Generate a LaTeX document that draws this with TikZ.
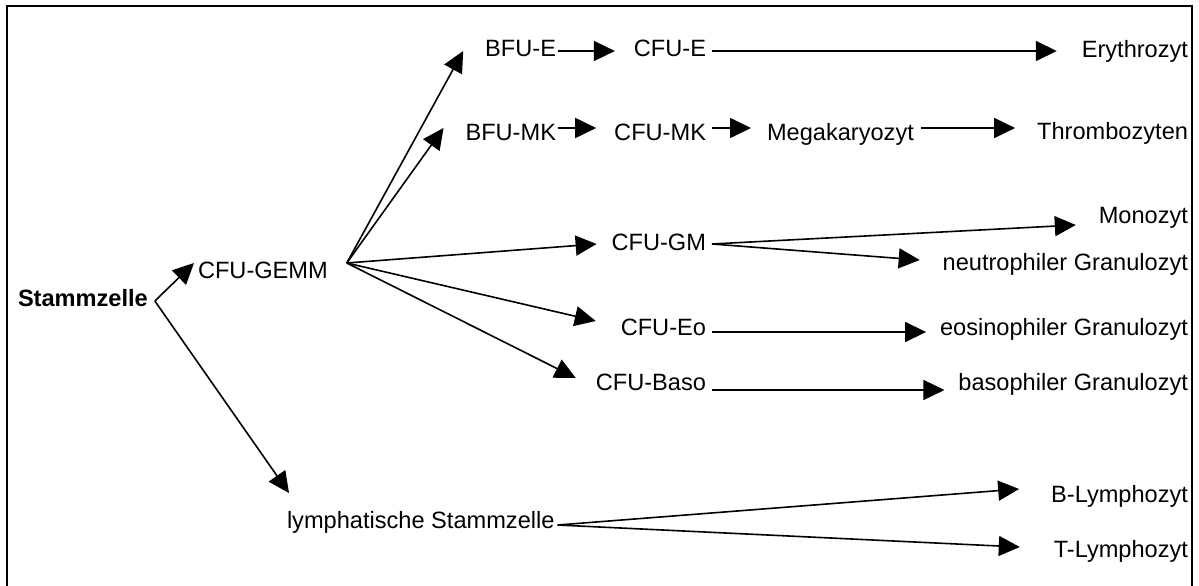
\documentclass[tikz,border=0pt]{standalone}
\usepackage{fontspec}
\setmainfont{Liberation Sans}
\usetikzlibrary{arrows.meta}
\tikzset{
  lbl/.style={inner sep=0pt, outer sep=0pt, font=\fontsize{23.6}{28}\selectfont},
  arr/.style={line width=1.6pt, -{Triangle[length=21pt,width=20pt]}},
  ln/.style={line width=1.6pt},
  frame/.style={line width=2pt}
}
\begin{document}
\begin{tikzpicture}[x=1pt,y=-1pt]
\useasboundingbox (0,0) rectangle (1199,586);
\draw[frame] (7,592) -- (7,6) -- (1192,6) -- (1192,592);

% nodes
\node[lbl, anchor=base west, font=\fontsize{23.6}{28}\selectfont\bfseries] (st) at (18,306) {Stammzelle};
\node[lbl, anchor=base west] (gemm) at (198,278) {CFU-GEMM};
\node[lbl, anchor=base east] (bfue) at (556,57) {BFU-E};
\node[lbl, anchor=base east] (cfue) at (706,57) {CFU-E};
\node[lbl, anchor=base east] (ery) at (1188,58) {Erythrozyt};
\node[lbl, anchor=base east] (bfumk) at (556,140) {BFU-MK};
\node[lbl, anchor=base east] (cfumk) at (706,140) {CFU-MK};
\node[lbl, anchor=base west] (mega) at (767,140) {Megakaryozyt};
\node[lbl, anchor=base east] (thr) at (1188,139) {Thrombozyten};
\node[lbl, anchor=base east] (cfugm) at (706,250) {CFU-GM};
\node[lbl, anchor=base east] (mono) at (1188,223) {Monozyt};
\node[lbl, anchor=base east] (neut) at (1188,270) {neutrophiler Granulozyt};
\node[lbl, anchor=base east] (cfueo) at (706,335) {CFU-Eo};
\node[lbl, anchor=base east] (eos) at (1188,335) {eosinophiler Granulozyt};
\node[lbl, anchor=base east] (baso) at (706,390) {CFU-Baso};
\node[lbl, anchor=base east] (basg) at (1188,390) {basophiler Granulozyt};
\node[lbl, anchor=base west] (lym) at (287,528) {lymphatische Stammzelle};
\node[lbl, anchor=base east] (blym) at (1188,502) {B-Lymphozyt};
\node[lbl, anchor=base east] (tlym) at (1188,557) {T-Lymphozyt};

% junctions
\coordinate (stj) at ([xshift=7pt,yshift=5pt]st.base east);
\coordinate (fan) at ([xshift=19pt,yshift=15pt]gemm.base east);
\coordinate (gmj) at ([xshift=6pt,yshift=6pt]cfugm.base east);
\coordinate (lyj) at ([xshift=3pt,yshift=3pt]lym.base east);

% connectors
\draw[arr] (stj) -- ([xshift=-4pt,yshift=15pt]gemm.base west);
\draw[arr] (stj) -- ([xshift=2pt,yshift=35pt]lym.base west);

\draw[arr] (fan) -- ([xshift=-22pt,yshift=6pt]bfue.base west);
\draw[arr] (fan) -- ([xshift=-22pt,yshift=12pt]bfumk.base west);
\draw[arr] (fan) -- ([xshift=-15pt,yshift=6pt]cfugm.base west);
\draw[arr] (fan) -- ([xshift=-25pt,yshift=14pt]cfueo.base west);
\draw[arr] (fan) -- ([xshift=-20pt,yshift=12pt]baso.base west);

\draw[arr] ([xshift=2pt,yshift=6pt]bfue.base east) -- ([xshift=-19pt,yshift=6pt]cfue.base west);
\draw[arr] ([xshift=6pt,yshift=6pt]cfue.base east) -- ([xshift=-25pt,yshift=7pt]ery.base west);

\draw[arr] ([xshift=2pt,yshift=12pt]bfumk.base east) -- ([xshift=-18pt,yshift=12pt]cfumk.base west);
\draw[arr] ([xshift=6pt,yshift=12pt]cfumk.base east) -- ([xshift=-16pt,yshift=12pt]mega.base west);
\draw[arr] ([xshift=7pt,yshift=12pt]mega.base east) -- ([xshift=-22pt,yshift=11pt]thr.base west);

\draw[arr] (gmj) -- ([xshift=-23pt,yshift=-2pt]mono.base west);
\draw[arr] (gmj) -- ([xshift=-23pt,yshift=10pt]neut.base west);

\draw[arr] ([xshift=6pt,yshift=3pt]cfueo.base east) -- ([xshift=-14pt,yshift=3pt]eos.base west);
\draw[arr] ([xshift=6pt,yshift=0pt]baso.base east) -- ([xshift=-14pt,yshift=0pt]basg.base west);

\draw[arr] (lyj) -- ([xshift=-32pt,yshift=13pt]blym.base west);
\draw[arr] (lyj) -- ([xshift=-34pt,yshift=10pt]tlym.base west);
\end{tikzpicture}
\end{document}
